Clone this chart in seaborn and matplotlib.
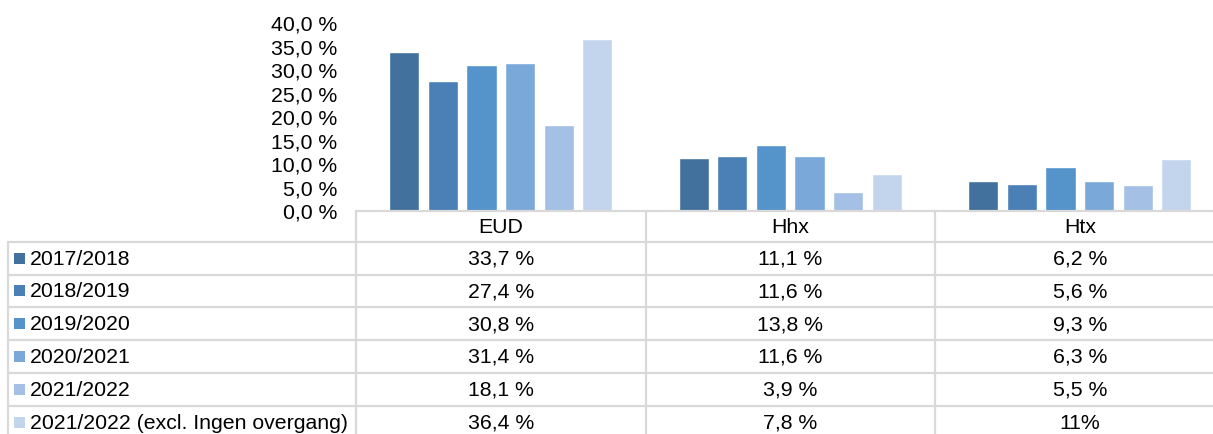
import matplotlib
matplotlib.use("Agg")
import matplotlib.pyplot as plt
import matplotlib.ticker as mticker
from matplotlib.patches import Rectangle
import pandas as pd
import seaborn as sns

# data
categories = ["EUD", "Hhx", "Htx"]
series_names = ["2017/2018", "2018/2019", "2019/2020", "2020/2021", "2021/2022",
                "2021/2022 (excl. Ingen overgang)"]
v_2017 = [33.7, 11.1, 6.2]
v_2018 = [27.4, 11.6, 5.6]
v_2019 = [30.8, 13.8, 9.3]
v_2020 = [31.4, 11.6, 6.3]
v_2021 = [18.1, 3.9, 5.5]
v_2021_excl = [36.4, 7.8, 11.0]
values = [v_2017, v_2018, v_2019, v_2020, v_2021, v_2021_excl]

palette = ["#41719C", "#4A80B5", "#5593CB", "#7AA8D9", "#A4C0E4", "#C3D5EC"]
grid_col = "#D9D9D9"
fs = 15.3


def fmt(v):
    return f"{v:.1f} %".replace(".", ",")


cell_text = [[fmt(v) for v in row] for row in values]
cell_text[5][2] = "11%"  # the source table prints this one without decimals

df = pd.DataFrame([
    {"category": c, "series": s, "value": v}
    for s, row in zip(series_names, values)
    for c, v in zip(categories, row)
])

sns.set_style("white")
plt.rcParams['font.family'] = ['Liberation Sans', 'DejaVu Sans']
plt.rcParams['text.color'] = 'black'
plt.rcParams['ytick.color'] = 'black'

W, H = 1213, 435
fig = plt.figure(figsize=(W / 100, H / 100), dpi=100)

# bar chart area (pixel layout of the reference)
x0, col_w = 356, 289.5
y_zero, y_top = 211.5, 23
ax = fig.add_axes([x0 / W, 1 - y_zero / H, 3 * col_w / W, (y_zero - y_top) / H])
sns.barplot(data=df, x="category", y="value", hue="series",
            order=categories, hue_order=series_names, palette=palette,
            saturation=1, width=0.8, gap=0.22, legend=False, ax=ax)
ax.set_ylim(0, 40)
ax.set_yticks(range(0, 41, 5))
ax.yaxis.set_major_formatter(mticker.FuncFormatter(lambda y, _: fmt(y)))
ax.tick_params(axis="y", length=0, pad=13.5, labelsize=fs, labelcolor="black")
ax.tick_params(axis="x", length=0, labelbottom=False)
ax.set_xlabel("")
ax.set_ylabel("")
for sp in ax.spines.values():
    sp.set_visible(False)

# data table underneath
ov = fig.add_axes([0, 0, 1, 1])
ov.set_xlim(0, W)
ov.set_ylim(H, 0)
ov.axis("off")

row_top, row_h = 242.7, 32.8
lw = 1.6
ov.plot([x0, W], [y_zero, y_zero], color=grid_col, lw=lw)
for i in range(len(series_names)):
    y = row_top + i * row_h
    ov.plot([8, W], [y, y], color=grid_col, lw=lw)
ov.plot([8, 8], [row_top, H], color=grid_col, lw=lw)
for i in range(3):
    x = x0 + i * col_w
    ov.plot([x, x], [y_zero, H], color=grid_col, lw=lw)

centers = [x0 + col_w * (i + 0.5) for i in range(3)]
for c, xc in zip(categories, centers):
    ov.text(xc, (y_zero + row_top) / 2, c, ha="center", va="center", fontsize=fs)

for i, (name, col) in enumerate(zip(series_names, palette)):
    yc = row_top + row_h * (i + 0.5)
    ov.add_patch(Rectangle((14, yc - 5.5), 11, 11, color=col, lw=0))
    ov.text(29.5, yc, name, ha="left", va="center", fontsize=fs)
    for xc, t in zip(centers, cell_text[i]):
        ov.text(xc, yc, t, ha="center", va="center", fontsize=fs)

fig.savefig("out.png", dpi=100)
